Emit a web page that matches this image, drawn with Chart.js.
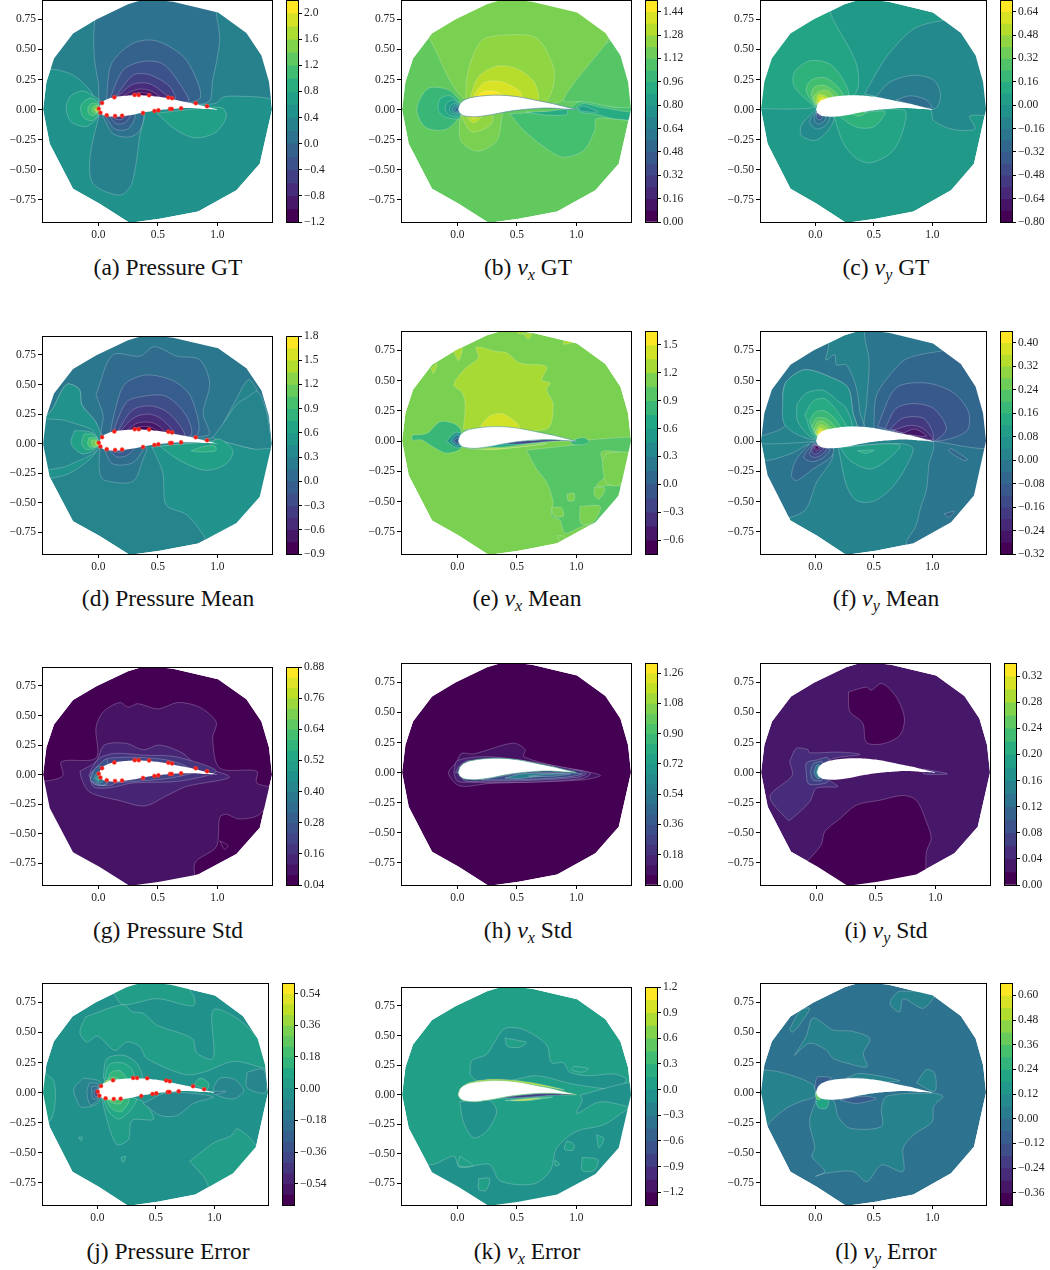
<!DOCTYPE html>
<html><head><meta charset="utf-8">
<script src="https://cdn.jsdelivr.net/npm/chart.js@4"></script>
<style>
html,body{margin:0;padding:0;background:#fff}
#page{position:relative;width:1050px;height:1270px;overflow:hidden;background:#fff}
canvas{position:absolute}
.cap{position:absolute;transform:translate(-50%,-50%);font:23.5px "Liberation Serif",serif;color:#111;white-space:nowrap}
.cap i{font-size:24px}.cap sub{font-size:16px;line-height:0;vertical-align:-5px;font-style:italic}
</style></head><body><div id="page"></div>
<script>
const xTicks=[0,0.5,1];
const yTicks=[-0.75,-0.5,-0.25,0,0.25,0.5,0.75];
const domainOutline=[-.465,0,-.437,.23,-.373,.424,-.213,.632,-.017,.748,.249,.875,.403,.92,.627,.895,1.006,.806,1.244,.637,1.37,.45,1.434,.23,1.459,0,1.356,-.449,1.16,-.67,.838,-.845,.515,-.906,.263,-.94,.011,-.781,-.213,-.656,-.409,-.283];
const airfoilOutline=[.005,0,.02,.045,.05,.075,.1,.097,.2,.113,.3,.12,.4,.118,.5,.108,.6,.09,.7,.07,.8,.05,.9,.025,1,0,.9,.005,.8,.012,.7,.012,.6,.005,.5,-.005,.4,-.02,.3,-.04,.2,-.055,.15,-.06,.1,-.058,.05,-.05,.02,-.03];
const sensorX=[.003,.017,.031,.07,.134,.14,.199,.305,.339,.375,.426,.471,.504,.588,.619,.602,.616,.695,.818,.913];
const sensorY=[.008,-.025,.055,-.047,.102,-.053,-.05,.122,.122,-.028,.119,-.011,-.006,.1,.094,.006,.006,.011,.053,.028];

const pGtLevels=[-1.2,-1,-.8,-.6,-.4,-.2,0,.2,.4,.6,.8,1,1.2,1.4,1.6,1.8,2,2.2];
const pGtTicks=[-1.2,-.8,-.4,0,.4,.8,1.2,1.6,2];
const pGtBase=8;
const pGtBands=[
[7,-.6,.33,-.38,.335,-.21,.285,-.07,.16,.02,.03,.5,.03,.98,.05,1.05,.105,1.215,.11,1.44,.09,1.6,.0,1.6,1.1,-.6,1.1],
[6,-.03,1.1,-.03,.77,-.04,.58,-.03,.4,0,.22,.03,.05,.5,.05,.92,.06,.96,.24,1.02,.58,.99,.81,.99,1.1],
[5,.067,.08,.11,.38,.29,.55,.49,.57,.74,.41,.84,.08],
[4,.095,.09,.21,.33,.375,.4,.54,.38,.68,.22,.75,.065],
[3,.14,.1,.29,.285,.43,.29,.6,.19,.64,.08],
[2,.15,.1,.29,.21,.43,.215,.56,.13,.585,.095],
[1,.18,.1,.32,.167,.43,.16,.515,.1],
[0,.22,.1,.33,.14,.43,.13,.47,.1],
[7,.01,-.03,-.07,-.39,-.045,-.615,.18,-.71,.28,-.615,.35,-.2,.375,-.03],
[6,.03,-.04,.123,-.2,.263,-.227,.35,-.17,.37,-.03],
[5,.05,-.04,.137,-.16,.25,-.16,.305,-.04],
[4,.08,-.04,.15,-.115,.22,-.11,.27,-.04],
[3,.09,-.04,.15,-.08,.2,-.08,.23,-.04],
[9,.49,-.03,.655,-.17,.82,-.235,.99,-.185,1.075,-.06,1.05,.01,.96,.02],
[9,0,.09,-.13,.155,-.24,.105,-.27,0,-.23,-.1,-.1,-.14,0,-.05],
[10,0,.06,-.06,.095,-.13,.06,-.15,0,-.12,-.07,-.05,-.09,.005,-.03],
[11,0,.045,-.05,.055,-.085,.02,-.085,-.025,-.05,-.05,.005,-.02],
[12,.005,.03,-.03,.035,-.055,0,-.03,-.03,.005,-.015],
[14,.005,.02,-.015,.02,-.03,0,-.015,-.02,.005,-.01],
[16,.005,.01,-.01,.008,-.01,-.008,.005,-.008]
];

const vxGtLevels=[0,.08,.16,.24,.32,.4,.48,.56,.64,.72,.8,.88,.96,1.04,1.12,1.2,1.28,1.36,1.44,1.52];
const vxGtTicks=[0,.16,.32,.48,.64,.8,.96,1.12,1.28,1.44];
const vxGtBase=13.6;
const vxGtBands=[
[14.4,-.235,.59,-.3,.7,-.1,1.1,1.4,1.1,1.25,.55,.89,.08,.5,.05,.065,.08],
[13.2,1.25,.55,1.6,.7,1.6,.02,1.31,.02,1.03,.065,.89,.08],
[15,.07,.05,.085,.3,.2,.57,.41,.62,.665,.595,.805,.36,.805,.19,.72,.05],
[16,.09,.05,.176,.27,.33,.36,.5,.34,.65,.22,.665,.05],
[17,.1,.05,.22,.22,.36,.235,.525,.15,.54,.05],
[18,.15,.09,.2,.14,.29,.155,.37,.13,.42,.09],
[14.4,.02,-.05,.03,-.26,.17,-.345,.33,-.26,.37,-.09,.37,-.03],
[15,.03,-.05,.12,-.185,.275,-.13,.29,-.04],
[16,.07,-.05,.135,-.11,.205,-.05],
[17,.1,-.05,.14,-.08,.17,-.05],
[12,.02,.08,-.075,.165,-.245,.175,-.34,.01,-.27,-.145,-.1,-.165,.02,-.05],
[11,.02,.05,-.06,.115,-.145,.09,-.16,-.005,-.105,-.06,.02,-.07],
[10,.02,.04,-.04,.08,-.09,.05,-.1,-.01,-.05,-.05,.02,-.05],
[9,.02,.03,-.02,.05,-.06,.03,-.065,-.01,-.03,-.035,.02,-.03],
[8,.02,.02,-.01,.035,-.04,.015,-.04,-.01,-.01,-.025,.02,-.02],
[6,.01,.015,-.015,.015,-.02,0,-.01,-.015,.01,-.015],
[12.6,.44,-.035,.555,-.17,.75,-.325,.89,-.395,1.06,-.34,1.155,-.17,1.17,-.075,1.45,-.09,1.6,-.09,1.6,.0,1.31,.02,1.03,.065,.92,0],
[11,1,.02,1.06,.05,1.2,.02,1.45,-.02,1.6,-.02,1.6,-.085,1.31,-.075,1.17,-.04,1.03,-.02],
[10,1.02,.015,1.06,.03,1.18,-.02,1.03,-.01],
[11,.58,-.02,.75,-.015,.92,0,.92,-.04,.75,-.045]
];

const vyGtLevels=[-.8,-.72,-.64,-.56,-.48,-.4,-.32,-.24,-.16,-.08,0,.08,.16,.24,.32,.4,.48,.56,.64,.72];
const vyGtTicks=[-.8,-.64,-.48,-.32,-.16,0,.16,.32,.48,.64];
const vyGtBase=9.6;
const vyGtBands=[
[10.5,-.6,.01,-.02,.015,.34,.13,.35,.38,.12,.825,.12,1.1,-.6,1.1],
[8.4,.42,.13,.61,.44,.84,.67,1.09,.74,1.6,.8,1.6,-.05,1.465,-.05,1.32,-.055,1.365,-.16,1.18,-.165,1.01,-.09,.98,0],
[7.4,.51,.1,.64,.23,.84,.285,1.01,.245,1.07,.13,1.04,.02,.98,0],
[6.4,.69,.08,.81,.115,.95,.08,.995,.015,.87,.03],
[11.5,-.005,.02,-.18,.19,-.18,.31,-.05,.405,.12,.38,.24,.245,.28,.1,.05,.05],
[12.5,-.005,.03,-.08,.16,-.035,.245,.08,.265,.18,.2,.24,.1],
[13.5,0,.04,-.035,.13,-.005,.19,.08,.2,.165,.15,.195,.1],
[14.5,.005,.04,-.015,.105,.04,.155,.11,.155,.15,.1],
[16,.01,.05,.02,.12,.07,.12,.11,.09],
[17,.02,.05,.04,.1,.07,.1,.09,.08],
[18,.025,.05,.05,.085,.075,.08],
[8.4,0,0,-.12,-.13,-.12,-.215,0,-.255,.11,-.17,.157,-.06],
[7.5,.005,-.01,-.05,-.1,.01,-.16,.09,-.13,.12,-.05],
[6.5,.005,-.02,-.01,-.08,.02,-.12,.07,-.1,.09,-.05],
[5,.01,-.02,.01,-.07,.04,-.085,.06,-.05],
[3,.01,-.02,.02,-.05,.04,-.055],
[10.5,.157,-.05,.24,-.28,.35,-.405,.48,-.44,.665,-.34,.757,-.145,.757,0],
[11.5,.195,-.05,.35,-.145,.495,-.145,.59,-.045,.59,-.01],
[12.5,.3,-.03,.38,-.055,.43,-.02]
];

const pMeanLevels=[-.9,-.75,-.6,-.45,-.3,-.15,0,.15,.3,.45,.6,.75,.9,1.05,1.2,1.35,1.5,1.65,1.8];
const pMeanTicks=[-.9,-.6,-.3,0,.3,.6,.9,1.2,1.5,1.8];
const pMeanBase=7.6;
const pMeanBands=[
[6.7,-.6,.2,-.42,.25,-.27,.5,-.16,.46,-.14,.33,-.02,.18,.025,.05,.96,.05,1.075,.22,1.145,.35,1.26,.54,1.33,.46,1.41,.26,1.6,-.07,1.6,1.1,-.6,1.1],
[7.6,.96,.05,1.07,.2,1.16,.33,1.25,.39,1.34,.44,1.42,.24,1.45,-.07,1.3,-.045,1,.03],
[8.6,-.6,.2,-.42,.25,-.27,.5,-.16,.46,-.14,.33,-.02,.18,.025,.05,.01,-.02,-.07,-.13,-.24,-.25,-.39,-.29,-.6,-.29],
[7.8,-.46,.21,-.3,.2,-.2,.17,-.06,.12,0,.03,.01,-.03,-.07,-.1,-.2,-.16,-.3,-.2,-.46,-.2],
[6.7,.01,-.02,.01,-.24,.05,-.31,.29,-.32,.375,-.13,.4,-.03],
[6,.04,-.03,.12,-.17,.29,-.16,.37,-.03],
[5,.07,-.03,.15,-.11,.24,-.1,.3,-.03],
[4,.08,-.03,.14,-.07,.2,-.07,.24,-.03],
[6,-.02,.415,.12,.75,.35,.74,.47,.82,.66,.74,.85,.71,.935,.51,.88,.26,.92,.07,.04,.07,.04,.235],
[5,.095,.07,.14,.28,.22,.5,.4,.58,.63,.53,.78,.39,.82,.07],
[4,.11,.07,.235,.35,.375,.4,.57,.4,.74,.235,.77,.065],
[3,.15,.08,.28,.28,.42,.32,.56,.28,.68,.16,.72,.06],
[2,.16,.08,.3,.22,.43,.25,.54,.2,.63,.08],
[1,.2,.08,.32,.17,.44,.18,.52,.14,.56,.08],
[0,.24,.09,.34,.14,.44,.14,.5,.09],
[8.6,.45,-.03,.54,-.24,.57,-.52,.74,-.6,.88,-.77,.95,-.9,1.6,-.9,1.6,-.07,1.3,-.045,1,.02],
[9.6,.515,-.02,.68,-.14,.9,-.225,1.075,-.17,1.13,-.06,1.02,.04,.95,.02],
[10.6,.78,-.06,.88,-.025,.98,-.02,.985,-.06,.85,-.07],
[9.6,-.2,.11,-.07,.1,-.005,.04,-.005,-.03,-.13,-.087,-.23,0],
[10.6,-.12,.08,-.05,.08,-.005,.03,-.005,-.02,-.1,-.05,-.14,0],
[12,-.08,.05,-.03,.05,0,.02,0,-.02,-.07,-.03,-.09,0],
[13,-.06,.03,-.02,.03,.005,.01,.005,-.015,-.05,-.02],
[15,-.03,.015,-.01,.015,.005,.005,.005,-.01,-.02,-.012]
];

const vxMeanLevels=[-.75,-.6,-.45,-.3,-.15,0,.15,.3,.45,.6,.75,.9,1.05,1.2,1.35,1.5,1.65];
const vxMeanTicks=[-.6,-.3,0,.3,.6,.9,1.2,1.5];
const vxMeanBase=12;
const vxMeanBands=[
[13,.05,.1,.065,.3,.04,.4,-.03,.465,.065,.6,.175,.685,.16,.775,.33,.74,.415,.73,.525,.645,.75,.615,.71,.505,.78,.48,.75,.425,.805,.3,.75,.1],
[14,.19,.12,.275,.21,.385,.225,.51,.14,.52,.1],
[13,.51,.95,.51,.89,.625,.89,.595,.845],
[13,-.035,.75,.04,.77,.01,.665],
[13,-.22,.6,-.17,.64,-.2,.56],
[13,.9,.83,.98,.82,.89,.8],
[10,-.38,.05,-.255,.065,-.145,.16,-.03,.145,.03,.09,.03,-.06,-.09,-.1,-.2,-.05,-.3,.01,-.38,.01],
[8,-.09,0,-.02,.07,.03,.06,.03,-.05,-.02,-.05],
[6,-.05,0,-.01,.05,.02,.04,.02,-.03,-.01,-.035],
[4,-.03,0,0,.025,.012,.02,.012,-.02,0,-.02],
[11,.58,-.075,.665,-.23,.75,-.34,.805,-.51,.79,-.62,.86,-.65,.905,-.76,1.06,-.7,1.18,-.67,1.335,-.48,1.365,-.37,1.17,-.37,1.255,-.27,1.21,-.09,1.45,-.1,1.6,-.1,1.6,.02,1.11,.01,1.06,-.02],
[10,1.0,.02,1.06,.03,1.11,-.005,1.05,-.03,.95,-.02],
[12,.92,-.44,.98,-.43,.98,-.49,.93,-.49],
[12,1.15,-.38,1.24,-.39,1.19,-.48,1.15,-.44],
[12,1.03,-.54,1.2,-.54,1.14,-.67,1.04,-.68],
[12,.79,-.55,.875,-.55,.89,-.62,.81,-.62],
[12,.84,-.78,.905,-.79,.86,-.83],
[12,1.25,-.1,1.44,-.1,1.44,-.28,1.335,-.37,1.25,-.34,1.22,-.17],
[14,.08,-.06,.2,-.065,.45,-.055,.75,-.02,.6,-.04,.3,-.07],
[9,.08,-.04,.3,-.035,.5,-.005,.9,.01,.62,-.02,.36,-.05],
[3,.35,-.025,.55,0,.8,.012,1,0,.8,0,.55,-.022]
];

const vyMeanLevels=[-.32,-.28,-.24,-.2,-.16,-.12,-.08,-.04,0,.04,.08,.12,.16,.2,.24,.28,.32,.36,.4,.44];
const vyMeanTicks=[-.32,-.24,-.16,-.08,0,.08,.16,.24,.32,.4];
const vyMeanBase=8;
const vyMeanBands=[
[7,.44,1.1,.42,.875,.46,.66,.44,.33,.44,.08,1,0,.97,-.2,.95,-.4,.9,-.55,.86,-.7,.78,-.86,1,-1.1,1.6,-1.1,1.6,1.1],
[7,-.6,-.16,-.405,-.16,-.2,-.1,-.02,-.02,.15,-.115,.01,-.34,-.08,-.56,-.22,-.63,-.5,-.63],
[7,-.02,.9,.11,.81,.09,.67,.165,.715,.18,.63,.265,.63,.35,.44,.38,.24,.41,.08,0,.03,-.5,.03,-.5,.9],
[8,-.5,.03,-.26,.13,-.28,.38,-.25,.49,-.09,.59,.15,.52,.28,.44,.32,.24,.35,.08,0,0,-.5,-.02],
[9,-.28,.38,-.25,.49,-.09,.59,.15,.52,.28,.44,.32,.24,.35,.08,-.005,.01,-.26,.13],
[10,-.16,.3,-.08,.395,.065,.42,.195,.33,.265,.27,.31,.08,-.005,.02,-.15,.16],
[11,-.09,.22,-.02,.33,.08,.35,.19,.24,.27,.08,0,.03],
[12,-.05,.17,0,.24,.08,.25,.17,.18,.22,.08,.01,.04],
[13,-.03,.13,.01,.19,.08,.19,.15,.14,.18,.09,.02,.04],
[14,-.01,.1,.02,.16,.07,.16,.12,.12,.14,.09,.02,.04],
[15,0,.07,.03,.13,.07,.13,.11,.095,.03,.04],
[16,.01,.05,.03,.11,.07,.1,.09,.085],
[17,.015,.05,.035,.095,.06,.09,.08,.08],
[18,.02,.05,.04,.08,.06,.08],
[6,.5,.08,.52,.37,.64,.55,.78,.68,1.05,.74,1.6,.8,1.6,-.02,1,0],
[5,.53,.12,.69,.44,.95,.48,1.18,.4,1.31,.24,1.29,.08,1,0],
[4,.595,.1,.69,.27,.84,.31,1.01,.27,1.12,.105,1,0],
[3,.64,.1,.75,.19,.92,.19,1,.08,1,0],
[2,.665,.09,.81,.13,.92,.105,1,.01],
[1,.74,.06,.85,.1,.95,.04],
[9,.195,-.05,.265,-.365,.35,-.49,.49,-.5,.635,-.405,.75,-.255,.835,-.06,.72,-.02],
[10,.21,-.05,.295,-.16,.465,-.23,.61,-.16,.72,-.03],
[11,.36,-.08,.5,-.075,.43,-.1],
[6,-.035,-.01,-.16,-.145,-.205,-.285,-.16,-.325,-.02,-.23,.135,-.13,.15,-.05],
[5,-.02,-.02,-.1,-.13,-.03,-.17,.06,-.14,.12,-.07],
[4,-.02,-.03,-.05,-.11,0,-.135,.07,-.1,.09,-.06],
[3,-.01,-.03,-.03,-.08,0,-.11,.05,-.08,.07,-.055],
[1,-.01,-.03,-.01,-.06,.01,-.08,.04,-.06],
[0,0,-.035,.005,-.065,.03,-.055],
[6,1.16,-.06,1.3,-.15,1.27,-.16,1.14,-.08],
[6,1.1,-.6,1.19,-.58,1.14,-.63]
];

const pStdLevels=[.04,.08,.12,.16,.2,.24,.28,.32,.36,.4,.44,.48,.52,.56,.6,.64,.68,.72,.76,.8,.84,.88];
const pStdTicks=[.04,.16,.28,.4,.52,.64,.76,.88];
const pStdBase=0;
const pStdBands=[
[1,-.6,-.05,-.45,-.055,-.3,-.01,-.31,.11,-.02,.14,-.02,.4,.04,.53,.18,.61,.25,.57,.33,.6,.5,.555,.67,.61,.85,.57,.99,.445,.96,.305,1.02,.055,1.33,.03,1.33,-.07,1.47,-.125,1.355,-.335,1.18,-.375,1.075,-.335,1.02,-.36,.99,-.61,.81,-.75,.81,-1.1,-.6,-1.1],
[0,1.02,-.56,1.09,-.6,1.06,-.63],
[2,-.155,.03,-.02,.11,.05,.25,.235,.265,.375,.21,.515,.25,.71,.18,.82,.085,1.1,-.02,.74,-.1,.57,-.18,.39,-.265,.18,-.22,-.07,-.15,-.14,-.04],
[3,-.07,.03,.01,.14,.15,.18,.375,.165,.655,.15,.99,.03,.68,-.055,.29,-.07,.095,-.11,-.045,-.1],
[4,-.08,0,-.01,.06,.095,.14,.57,.125,.8,.03,.6,-.03,.15,-.07,.1,-.09,-.04,-.08],
[5,-.07,-.02,-.02,.06,.07,.13,.07,-.08,-.03,-.08],
[6,-.07,-.05,-.03,.05,.02,.07,.08,-.06,.03,-.09],
[8,-.04,-.04,-.01,.02,.02,.02,.04,-.05,0,-.07],
[10,-.025,-.03,0,0,.02,-.02,0,-.055],
[12,-.01,-.03,.005,-.01,.01,-.03,0,-.045]
];

const vxStdLevels=[0,.06,.12,.18,.24,.3,.36,.42,.48,.54,.6,.66,.72,.78,.84,.9,.96,1.02,1.08,1.14,1.2,1.26,1.32];
const vxStdTicks=[0,.18,.36,.54,.72,.9,1.08,1.26];
const vxStdBase=0;
const vxStdBands=[
[1,-.005,.09,.035,.16,.135,.155,.47,.245,.57,.19,.555,.135,.8,.06,1.2,-.02,1.06,-.06,.27,-.09,.02,-.11,-.075,-.005],
[2,-.03,0,0,-.07,.1,-.08,.6,-.08,1.05,-.05,1.12,-.01,1.03,.02,.3,.13,0,.1],
[3,-.015,0,.02,.06,.1,.1,.05,-.06,.25,-.07,.6,-.065,1,-.04,1.08,-.01,1.0,.02],
[5,.2,-.06,.5,-.01,.7,0,1.05,-.01,.9,-.04,.5,-.06],
[9,.4,-.045,.55,-.01,.9,-.01,.7,-.03,.5,-.05],
[7,.6,-.03,.75,-.015,.95,-.01,.8,-.03]
];

const vyStdLevels=[0,.02,.04,.06,.08,.1,.12,.14,.16,.18,.2,.22,.24,.26,.28,.3,.32,.34];
const vyStdTicks=[0,.04,.08,.12,.16,.2,.24,.28,.32];
const vyStdBase=1;
const vyStdBands=[
[0,.27,.67,.42,.71,.46,.685,.55,.74,.67,.63,.74,.45,.7,.31,.56,.24,.42,.25,.39,.41,.28,.51],
[0,-.08,-.74,.04,-.6,.07,-.49,.2,-.38,.335,-.27,.53,-.23,.73,-.19,.84,-.23,.925,-.41,.965,-.545,.925,-.655,.92,-.82,.92,-1.1,-.08,-1.1],
[2,-.225,.09,-.17,.2,-.07,.19,-.06,.165,.2,.17,.365,.15,.1,.1,.1,-.05,.18,-.115,0,-.13,-.055,-.24,-.225,-.395,-.255,-.38,-.39,-.2,-.225,-.05,-.2,-.01],
[2,.9,.03,1.1,-.01,.9,-.01],
[3,-.085,-.005,-.085,.08,0,.105,.1,.12,.1,-.07,0,-.1,-.07,-.09],
[4,-.05,0,-.03,.07,.02,.09,.05,.09,.05,-.06,-.03,-.06],
[6,-.02,0,0,.06,.03,.06,.03,-.05,0,-.04],
[9,0,0,.015,.05,.03,.045,.03,-.04,.015,-.035],
[11,.01,0,.025,.04,.025,-.03]
];

const pErrLevels=[-.66,-.6,-.54,-.48,-.42,-.36,-.3,-.24,-.18,-.12,-.06,0,.06,.12,.18,.24,.3,.36,.42,.48,.54,.6];
const pErrTicks=[-.54,-.36,-.18,0,.18,.36,.54];
const pErrBase=10;
const pErrBands=[
[11,.14,.82,.3,.95,.68,.95,.82,.81,.82,.72,.51,.78,.22,.73],
[11,-.1,.63,.22,.73,.3,.67,.39,.66,.51,.56,.81,.45,.85,.33,.99,.285,.99,.685,1.19,.62,1.37,.45,1.5,.2,1.17,.26,.91,.17,.75,.15,.42,.285,.365,.38,.25,.42,.15,.35,.0,.47,-.09,.42,-.15,.5],
[11,-.6,.2,-.39,.12,-.36,-.05,-.41,-.24,-.6,-.3],
[11,.79,-.57,.99,-.42,1.14,-.36,1.2,-.3,1.365,-.47,1.24,-.7,.99,-.82,.91,-.7],
[11,.05,.12,.08,.28,.22,.31,.34,.24,.38,.1],
[12,.06,.1,.1,.23,.2,.25,.29,.2,.31,.1],
[13,.08,.1,.12,.17,.2,.18,.25,.1],
[14,.08,.1,.12,.13,.19,.11],
[16,.05,.08,.08,.1,.11,.1,.06,.06],
[11,.04,-.05,.08,-.22,.165,-.43,.265,-.39,.295,-.23,.48,-.22,.365,-.06],
[12,.05,-.05,.1,-.16,.18,-.22,.27,-.16,.33,-.05],
[13,.07,-.05,.12,-.13,.2,-.16,.25,-.11,.27,-.05],
[14,.07,-.05,.14,-.09,.2,-.09,.22,-.05],
[16,.08,-.05,.14,-.07,.18,-.05],
[9,-.12,.12,.02,.09,.01,-.08,-.135,-.12,-.19,-.03,-.2,.04],
[8,-.07,.08,.005,.07,0,-.06,-.06,-.1,-.09,0],
[7,-.05,.05,0,.05,0,-.04,-.04,-.05],
[5,-.03,.02,0,.03,0,-.03,-.02,-.03],
[9,.39,-.09,.54,-.19,.68,-.19,.82,-.09,.99,-.035,.6,0],
[9,.99,.04,1.05,.12,1.17,.11,1.25,.02,1.17,-.05,1.02,-.02],
[8,.98,.01,1.1,.01,1,-.015],
[12,.82,.065,.88,.12,.95,.08,.94,.03],
[9,1.28,.17,1.42,.19,1.44,0,1.28,.04],
[11,-.16,-.37,-.13,-.37,-.14,-.4],
[11,.2,-.54,.24,-.53,.22,-.58]
];

const vxErrLevels=[-1.35,-1.2,-1.05,-.9,-.75,-.6,-.45,-.3,-.15,0,.15,.3,.45,.6,.75,.9,1.05,1.2];
const vxErrTicks=[-1.2,-.9,-.6,-.3,0,.3,.6,.9,1.2];
const vxErrBase=9;
const vxErrBands=[
[8,.105,.175,.12,.285,.245,.34,.315,.45,.4,.56,.555,.55,.75,.42,.79,.27,.89,.27,.945,.19,1.11,.16,1.31,.175,1.42,.13,1.335,.05,.97,.09,.665,.16,.44,.12,.16,.12],
[9,.4,.48,.5,.46,.58,.44,.52,.4,.42,.41],
[9,.98,.24,1.1,.22,1.05,.19,.96,.21],
[8,.02,-.06,.05,-.23,.135,-.365,.245,-.31,.33,-.145,.27,-.05],
[8,1.03,-.005,1.45,.105,1.6,.1,1.6,-.115,1.2,-.06,1,-.16,1.05,-.05],
[8,-.4,-.59,-.2,-.59,-.03,-.52,.02,-.615,.27,-.59,.36,-.73,.64,-.755,.78,-.645,.835,-.45,1,-.31,1.23,-.255,1.46,-.11,1.6,-.1,1.6,-1.1,-.4,-1.1],
[9,.92,-.39,.98,-.42,.97,-.47,.9,-.46],
[9,1.05,-.53,1.18,-.55,1.15,-.64,1.05,-.64],
[9,.18,-.71,.27,-.71,.24,-.81,.18,-.8],
[9,.02,-.52,.13,-.6,.01,-.6],
[9,1.17,-.34,1.23,-.37,1.19,-.45],
[9,.82,-.55,.86,-.59,.82,-.6],
[14,.02,.05,.1,.1,.3,.13,.6,.105,.9,.04,.6,.09,.3,.115,.1,.09],
[11,.4,-.05,.6,-.03,.8,-.02,.6,-.05],
[15,.45,-.05,.6,-.035,.7,-.03,.55,-.05],
[3,.35,-.03,.55,-.003,.8,.012,1,0,.8,-.005,.55,-.025]
];

const vyErrLevels=[-.42,-.36,-.3,-.24,-.18,-.12,-.06,0,.06,.12,.18,.24,.3,.36,.42,.48,.54,.6,.66];
const vyErrTicks=[-.36,-.24,-.12,0,.12,.24,.36,.48,.6];
const vyErrBase=6.4;
const vyErrBands=[
[7.5,-.6,.19,-.46,.19,-.28,.165,-.02,.065,-.005,-.03,-.13,-.075,-.25,-.13,-.375,-.23,-.44,-.3,-.6,-.3],
[7.5,.01,-.05,-.05,-.24,-.005,-.46,-.03,-.53,.08,-.655,0,-.695,.08,-.67,.32,-.655,.44,-.74,.565,-.6,.75,-.655,.75,-.46,.84,-.35,1,-.24,1.01,-.115,1.09,-.03,1,-.005,.61,-.03,.565,-.13,.565,-.28,.295,-.295,.195,-.2,.15,-.06],
[7.5,-.18,.31,-.08,.465,-.02,.62,.15,.52,.31,.51,.465,.45,.41,.325,.44,.215,.27,.245,.15,.285,.09,.355,-.05,.41],
[7.5,.65,.78,.72,.84,1.01,.81,.92,.7,.75,.78,.72,.67,.64,.73],
[7.5,.865,.08,.95,.19,1.02,.16,1.02,.01],
[7.5,.265,.12,.38,.16,.72,.1,.6,.09,.4,.118],
[7.5,-.22,.53,-.13,.68,-.05,.7,-.13,.57,-.2,.5],
[5,0,.09,.02,.13,.14,.12,.06,.07,0,.02],
[5,.21,-.06,.35,-.09,.52,-.05,.4,-.03],
[10,0,0,.02,-.12,.095,-.13,.11,-.05],
[13,0,0,.01,-.05,.04,-.06]
];

const panels=[
{plot:[42,0,272,222],bar:[286,298],levels:pGtLevels,ticks:pGtTicks,dec:1,base:pGtBase,bands:pGtBands,dots:1,edge:'rgba(255,255,255,0)',cap:'(a) Pressure GT',cx:168,cy:267},
{plot:[401,0,631,222],bar:[645,657],levels:vxGtLevels,ticks:vxGtTicks,dec:2,base:vxGtBase,bands:vxGtBands,edge:'rgba(74,127,160,.7)',cap:'(b) <i>v<sub>x</sub></i> GT',cx:528,cy:267},
{plot:[760,0,986,222],bar:[1000,1012],levels:vyGtLevels,ticks:vyGtTicks,dec:2,base:vyGtBase,bands:vyGtBands,edge:'rgba(255,255,255,0)',cap:'(c) <i>v<sub>y</sub></i> GT',cx:886,cy:267},
{plot:[42,336,272,554],bar:[286,298],levels:pMeanLevels,ticks:pMeanTicks,dec:1,base:pMeanBase,bands:pMeanBands,dots:1,edge:'rgba(255,255,255,0)',cap:'(d) Pressure Mean',cx:168,cy:598},
{plot:[401,331,631,554],bar:[645,657],levels:vxMeanLevels,ticks:vxMeanTicks,dec:1,base:vxMeanBase,bands:vxMeanBands,edge:'rgba(63,143,154,.6)',cap:'(e) <i>v<sub>x</sub></i> Mean',cx:527,cy:598},
{plot:[760,331,986,554],bar:[1000,1012],levels:vyMeanLevels,ticks:vyMeanTicks,dec:2,base:vyMeanBase,bands:vyMeanBands,edge:'rgba(255,255,255,0)',cap:'(f) <i>v<sub>y</sub></i> Mean',cx:886,cy:598},
{plot:[42,667,272,885],bar:[286,298],levels:pStdLevels,ticks:pStdTicks,dec:2,base:pStdBase,bands:pStdBands,dots:1,edge:'rgba(255,255,255,0)',cap:'(g) Pressure Std',cx:168,cy:930},
{plot:[401,663,631,885],bar:[645,657],levels:vxStdLevels,ticks:vxStdTicks,dec:2,base:vxStdBase,bands:vxStdBands,edge:'rgba(69,169,138,.8)',cap:'(h) <i>v<sub>x</sub></i> Std',cx:528,cy:930},
{plot:[760,663,990,885],bar:[1004,1016],levels:vyStdLevels,ticks:vyStdTicks,dec:2,base:vyStdBase,bands:vyStdBands,edge:'rgba(255,255,255,0)',cap:'(i) <i>v<sub>y</sub></i> Std',cx:886,cy:930},
{plot:[42,983,268,1205],bar:[282,294],levels:pErrLevels,ticks:pErrTicks,dec:2,base:pErrBase,bands:pErrBands,dots:1,edge:'rgba(255,255,255,0)',cap:'(j) Pressure Error',cx:168,cy:1251},
{plot:[401,987,631,1205],bar:[645,657],levels:vxErrLevels,ticks:vxErrTicks,dec:1,base:vxErrBase,bands:vxErrBands,edge:'rgba(108,191,112,.6)',cap:'(k) <i>v<sub>x</sub></i> Error',cx:527,cy:1251},
{plot:[760,983,986,1205],bar:[1000,1012],levels:vyErrLevels,ticks:vyErrTicks,dec:2,base:vyErrBase,bands:vyErrBands,edge:'rgba(255,255,255,0)',cap:'(l) <i>v<sub>y</sub></i> Error',cx:886,cy:1251}
];

const anchors=[[68,1,84],[72,36,117],[65,68,135],[53,95,141],[42,120,142],[33,145,140],[34,168,132],[68,191,112],[122,209,81],[189,223,38],[253,231,37]];
function viridis(t){const p=Math.min(.99999,Math.max(0,t))*10,i=Math.floor(p),f=p-i,a=anchors[i],b=anchors[i+1];
  return 'rgb('+[0,1,2].map(k=>Math.round(a[k]+(b[k]-a[k])*f)).join(',')+')';}
const toPts=f=>{const r=[];for(let i=0;i+1<f.length;i+=2)r.push({x:f[i],y:f[i+1]});return r;};
const closed=f=>{const r=toPts(f);r.push(r[0]);return r;};
const fmt=(v,d)=>{const s=Math.abs(v).toFixed(d);return (v<-1e-9?'\u2212':'')+s;};
const framePlugin={id:'frame',afterDraw(c){const a=c.chartArea,x=c.ctx;x.save();x.strokeStyle='#000';x.lineWidth=1;
  x.strokeRect(Math.round(a.left)+.5,Math.round(a.top)+.5,Math.round(a.right-a.left),Math.round(a.bottom-a.top));x.restore();}};
const tickFont={family:'"Liberation Serif",serif',size:11.5};
const page=document.getElementById('page');
function mk(l,t,w,h){const c=document.createElement('canvas');c.width=w;c.height=h;c.style.cssText=`left:${l}px;top:${t}px;width:${w}px;height:${h}px`;page.appendChild(c);return c;}
const XLIM=[-.474,1.459],YLIM=[-.933,.91];
const LINE='rgba(235,240,240,.42)';
Chart.defaults.animation=false;

panels.forEach(p=>{
  const [L,T,R,B]=p.plot;const yw=42,xh=24,pt=12,pr=6;
  const c=mk(L-yw,T-pt,R-L+yw+pr,B-T+pt+xh);
  const n=p.levels.length-2;
  const col=i=>viridis(i/n);
  const layers=[];
  layers.push({pts:closed(domainOutline),bg:col(p.base),line:'rgba(0,0,0,0)',w:0,t:0});
  p.bands.forEach(b=>layers.push({pts:closed(b.slice(1)),bg:col(b[0]),line:LINE,w:.6,t:.3}));
  const outer=[-.7,0,-.7,-1.2,1.7,-1.2,1.7,1.2,-.7,1.2,-.7,0];
  layers.push({pts:closed(domainOutline.concat(domainOutline.slice(0,2),outer)),bg:'#fff',line:'rgba(0,0,0,0)',w:0,t:0});
  layers.push({pts:closed(airfoilOutline),bg:'#fff',line:p.edge,w:.9,t:.2});
  const N=layers.length+1;
  const ds=layers.map((l,i)=>({type:'scatter',showLine:true,data:l.pts,pointRadius:0,fill:'shape',tension:l.t,backgroundColor:l.bg,borderColor:l.line,borderWidth:l.w,order:N-i}));
  if(p.dots)ds.push({type:'scatter',showLine:false,data:sensorX.map((x,i)=>({x,y:sensorY[i]})),pointRadius:2,backgroundColor:'#f01818',borderColor:'#ff5a40',borderWidth:.5,order:0});
  new Chart(c,{type:'scatter',data:{datasets:ds},plugins:[framePlugin],options:{responsive:false,devicePixelRatio:1,
    layout:{autoPadding:false,padding:{top:pt,right:pr,left:0,bottom:0}},
    plugins:{legend:{display:false},tooltip:{enabled:false}},
    scales:{
      x:{type:'linear',min:XLIM[0],max:XLIM[1],afterFit:s=>{s.height=xh;},afterBuildTicks:s=>{s.ticks=xTicks.map(value=>({value}));},
        border:{display:false},grid:{drawOnChartArea:false,color:'#000',tickLength:4},
        ticks:{font:tickFont,color:'#222',padding:2,maxRotation:0,autoSkip:false,callback:v=>fmt(v,1)}},
      y:{type:'linear',min:YLIM[0],max:YLIM[1],afterFit:s=>{s.width=yw;},afterBuildTicks:s=>{s.ticks=yTicks.map(value=>({value}));},
        border:{display:false},grid:{drawOnChartArea:false,color:'#000',tickLength:4},
        ticks:{font:tickFont,color:'#222',padding:2,autoSkip:false,callback:v=>fmt(v,2)}}
    }}});
  // colorbar: each band paints from its lower level upward, later bands over earlier ones
  const [cl,cr]=p.bar;const rw=1050-cr<36?1050-cr:36;
  const cb=mk(cl-2,T-pt,cr-cl+2+rw,B-T+pt+12);
  const top=p.levels[n+1];const cbData=[];
  for(let i=0;i<=n;i++)cbData.push({label:String(p.levels[i]),data:[[p.levels[i],top]],backgroundColor:col(i),borderWidth:0,barPercentage:1,categoryPercentage:1,grouped:false,order:n-i+1});
  new Chart(cb,{type:'bar',data:{labels:['level'],datasets:cbData},plugins:[framePlugin],options:{responsive:false,devicePixelRatio:1,
    layout:{autoPadding:false,padding:{top:pt,left:2,right:0,bottom:12}},
    plugins:{legend:{display:false},tooltip:{enabled:false}},
    scales:{
      x:{display:false,grid:{display:false}},
      y:{position:'right',min:p.levels[0],max:top,afterFit:s=>{s.width=rw;},afterBuildTicks:s=>{s.ticks=p.ticks.map(value=>({value}));},
        border:{display:false},grid:{drawOnChartArea:false,color:'#000',tickLength:4},
        ticks:{font:tickFont,color:'#222',padding:2,autoSkip:false,callback:v=>fmt(v,p.dec)}}
    }}});
  const d=document.createElement('div');d.className='cap';d.style.left=p.cx+'px';d.style.top=p.cy+'px';d.innerHTML=p.cap;page.appendChild(d);
});
</script></body></html>
